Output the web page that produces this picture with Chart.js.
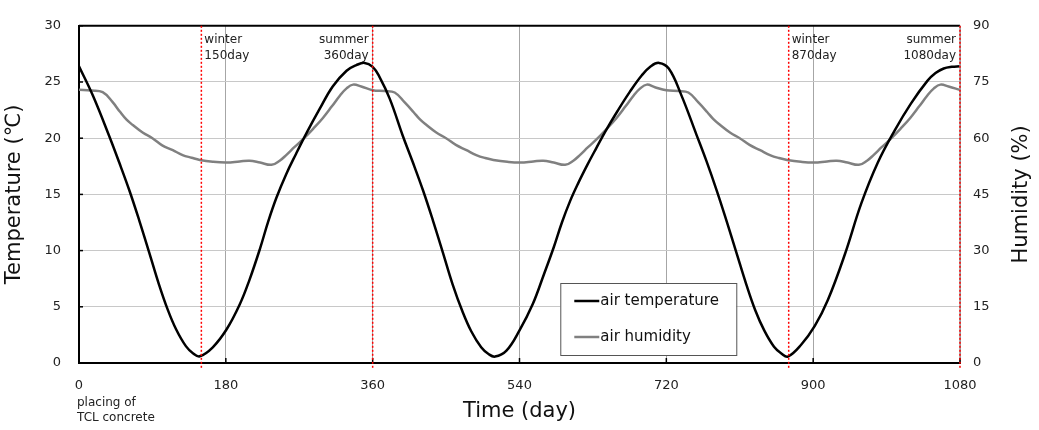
<!DOCTYPE html>
<html><head><meta charset="utf-8">
<script src="https://cdn.jsdelivr.net/npm/chart.js@4.4.0/dist/chart.umd.min.js"></script>
<style>html,body{margin:0;padding:0;background:#fff;}#wrap{width:1039px;height:430px;}</style>
</head><body><div id="wrap"><canvas id="c" width="1039" height="430"></canvas></div>
<script>
const tempDays = [0,17,37,49,62,74,86,98,109,119,131,140,148,164,181,197,209,222,232,242,254,266,280,295,311,328,340,350,360,
  368,381,397,409,422,434,446,458,470,481,493,502,510,524,540,556,570,582,592,602,612,623,634,646,660,675,690,701,711,723,
  738,757,769,782,794,806,818,829,840,852,861,869,885,902,918,939,959,979,1000,1020,1040,1050,1060,1070,1080];
const tempValues = [26.4,23.8,20.2,17.9,15.3,12.65,9.85,7.0,4.7,3.0,1.5,0.85,0.6,1.4,3.0,5.2,7.4,10.2,12.6,14.7,16.8,18.6,20.6,22.6,24.6,26.0,26.5,26.7,26.35,
  25.5,23.5,20.2,17.9,15.3,12.65,9.85,7.0,4.6,2.8,1.4,0.8,0.57,1.1,2.9,5.2,7.9,10.3,12.5,14.4,16.0,17.6,19.1,20.7,22.4,24.1,25.6,26.4,26.7,26.2,
  23.9,20.3,18.0,15.3,12.6,9.8,7.0,4.7,2.9,1.45,0.85,0.57,1.6,3.3,5.6,9.7,14.2,17.8,20.7,23.1,25.1,25.8,26.2,26.35,26.4];
const humDays = [0,15,29,41,50,58,66,78,90,102,115,127,138,148,164,181,197,209,222,236,246,254,264,275,287,299,310,320,328,336,346,360,
  375,387,399,410,418,426,438,450,462,475,487,498,508,525,541,557,569,582,596,606,614,624,635,647,659,670,680,688,696,706,720,
  735,747,759,770,778,786,798,810,822,835,847,858,868,885,901,917,929,942,956,966,974,984,995,1007,1019,1030,1040,1048,1056,1066,1080];
const humValues = [72.9,72.7,72.3,69.7,67.1,65.0,63.5,61.5,60.0,58.1,56.8,55.5,54.8,54.2,53.7,53.5,53.8,54.0,53.5,52.9,54.0,55.5,57.6,59.8,62.5,65.4,68.5,71.4,73.3,74.3,73.8,72.8,
  72.6,72.2,69.6,67.0,65.0,63.5,61.5,60.0,58.2,56.8,55.5,54.7,54.2,53.7,53.5,53.8,54.0,53.5,52.9,54.0,55.5,57.6,59.8,62.5,65.4,68.5,71.4,73.3,74.3,73.6,72.8,
  72.6,72.2,69.6,67.0,65.0,63.5,61.5,60.0,58.2,56.8,55.5,54.7,54.2,53.7,53.5,53.8,54.0,53.5,52.9,54.0,55.5,57.6,59.8,62.5,65.4,68.5,71.4,73.3,74.3,73.8,72.9];
const markerDays = [150,360,870,1080];
const markerLabels = [["winter","150day"],["summer","360day"],["winter","870day"],["summer","1080day"]];
const markerAlign = ["left","right","left","right"];
const seriesNames = ["air temperature","air humidity"];
const xTitle = "Time (day)";
const yTitle = "Temperature (\u2103)";
const y1Title = "Humidity (%)";
const xNote = ["placing of","TCL concrete"];

const FONT = "'DejaVu Sans', Verdana, sans-serif";

const overlay = {
  id: 'overlay',
  afterDraw(chart) {
    const ctx = chart.ctx, a = chart.chartArea;
    const xs = chart.scales.x, ys = chart.scales.y;
    ctx.save();
    ctx.strokeStyle = '#000'; ctx.lineWidth = 2;
    ctx.beginPath(); ctx.moveTo(a.left, a.top); ctx.lineTo(a.right, a.top); ctx.stroke();
    ctx.strokeStyle = '#999'; ctx.lineWidth = 1.5;
    ctx.beginPath(); ctx.moveTo(a.right, a.top); ctx.lineTo(a.right, a.bottom); ctx.stroke();
    ctx.strokeStyle = '#000'; ctx.lineWidth = 1.5;
    xs.ticks.forEach(t => { const px = xs.getPixelForValue(t.value);
      ctx.beginPath(); ctx.moveTo(px, a.bottom); ctx.lineTo(px, a.bottom - 5); ctx.stroke(); });
    ys.ticks.forEach(t => { const py = ys.getPixelForValue(t.value);
      ctx.beginPath(); ctx.moveTo(a.left, py); ctx.lineTo(a.left + 4, py); ctx.stroke(); });
    ctx.strokeStyle = '#ff0000'; ctx.lineWidth = 1.5; ctx.setLineDash([2, 2]);
    markerDays.forEach(d => { const px = xs.getPixelForValue(d);
      ctx.beginPath(); ctx.moveTo(px, a.top); ctx.lineTo(px, a.bottom + 6); ctx.stroke(); });
    ctx.setLineDash([]);
    ctx.fillStyle = '#222'; ctx.font = '12px ' + FONT; ctx.textBaseline = 'middle';
    markerDays.forEach((d, i) => { const px = xs.getPixelForValue(d);
      ctx.textAlign = markerAlign[i];
      const ox = markerAlign[i] === 'left' ? 3 : -4;
      markerLabels[i].forEach((s, j) => ctx.fillText(s, px + ox, a.top + 14 + j * 16)); });
    ctx.textAlign = 'left';
    xNote.forEach((s, j) => ctx.fillText(s, a.left - 2, a.bottom + 40 + j * 15));
    ctx.save();
    ctx.font = '21px ' + FONT; ctx.fillStyle = '#111'; ctx.textAlign = 'center'; ctx.textBaseline = 'middle';
    ctx.translate(1022, (a.top + a.bottom) / 2); ctx.rotate(-Math.PI / 2);
    ctx.fillText(y1Title, 0, 0);
    ctx.restore();
    const lx = xs.getPixelForValue(590), ly = a.bottom - 80;
    const lw = 176, lh = 72;
    ctx.fillStyle = '#fff'; ctx.fillRect(lx, ly, lw, lh);
    ctx.strokeStyle = '#555'; ctx.lineWidth = 1; ctx.strokeRect(lx + 0.5, ly + 0.5, lw, lh);
    const cols = ['#000', '#808080'];
    ctx.font = '15px ' + FONT; ctx.textAlign = 'left'; ctx.textBaseline = 'middle';
    seriesNames.forEach((n, i) => {
      const yy = ly + 18 + i * 36;
      ctx.strokeStyle = cols[i]; ctx.lineWidth = 2.5;
      ctx.beginPath(); ctx.moveTo(lx + 14, yy); ctx.lineTo(lx + 39, yy); ctx.stroke();
      ctx.fillStyle = '#111'; ctx.fillText(n, lx + 40, yy);
    });
    ctx.restore();
  }
};

new Chart(document.getElementById('c'), {
  type: 'line',
  data: {
    datasets: [
      { label: seriesNames[0], data: tempDays.map((d, i) => ({x: d, y: tempValues[i]})),
        borderColor: '#000', borderWidth: 2.5, pointRadius: 0, tension: 0.4, yAxisID: 'y', order: 1 },
      { label: seriesNames[1], data: humDays.map((d, i) => ({x: d, y: humValues[i]})),
        borderColor: '#808080', borderWidth: 2.5, pointRadius: 0, tension: 0.4, yAxisID: 'y1', order: 2 }
    ]
  },
  options: {
    responsive: false, animation: false,
    layout: { padding: { top: 5, left: 0, right: 0, bottom: 0 } },
    plugins: { legend: { display: false }, tooltip: { enabled: false } },
    scales: {
      x: { type: 'linear', min: 0, max: 1080,
        ticks: { stepSize: 180, color: '#222', font: { family: FONT, size: 13 }, padding: 15, maxRotation: 0,
          callback: v => String(v) },
        grid: { color: '#a6a6a6', lineWidth: 1, drawTicks: false },
        border: { color: '#000', width: 2 },
        title: { display: true, text: xTitle, color: '#111', font: { family: FONT, size: 21 }, padding: { bottom: 6 } },
        afterFit(s) { s.height = 67; } },
      y: { position: 'left', min: 0, max: 30,
        ticks: { stepSize: 5, color: '#222', font: { family: FONT, size: 13 }, padding: 18, callback: v => String(v) },
        grid: { color: '#c8c8c8', lineWidth: 1, drawTicks: false },
        border: { color: '#000', width: 2 },
        title: { display: true, text: yTitle, color: '#111', font: { family: FONT, size: 21 }, padding: { top: 2 } },
        afterFit(s) { s.width = 79; } },
      y1: { position: 'right', min: 0, max: 90,
        ticks: { stepSize: 15, color: '#222', font: { family: FONT, size: 13 }, padding: 13, callback: v => String(v) },
        grid: { display: false, drawTicks: false },
        border: { display: false },
        afterFit(s) { s.width = 79; } }
    }
  },
  plugins: [overlay]
});
</script></body></html>
